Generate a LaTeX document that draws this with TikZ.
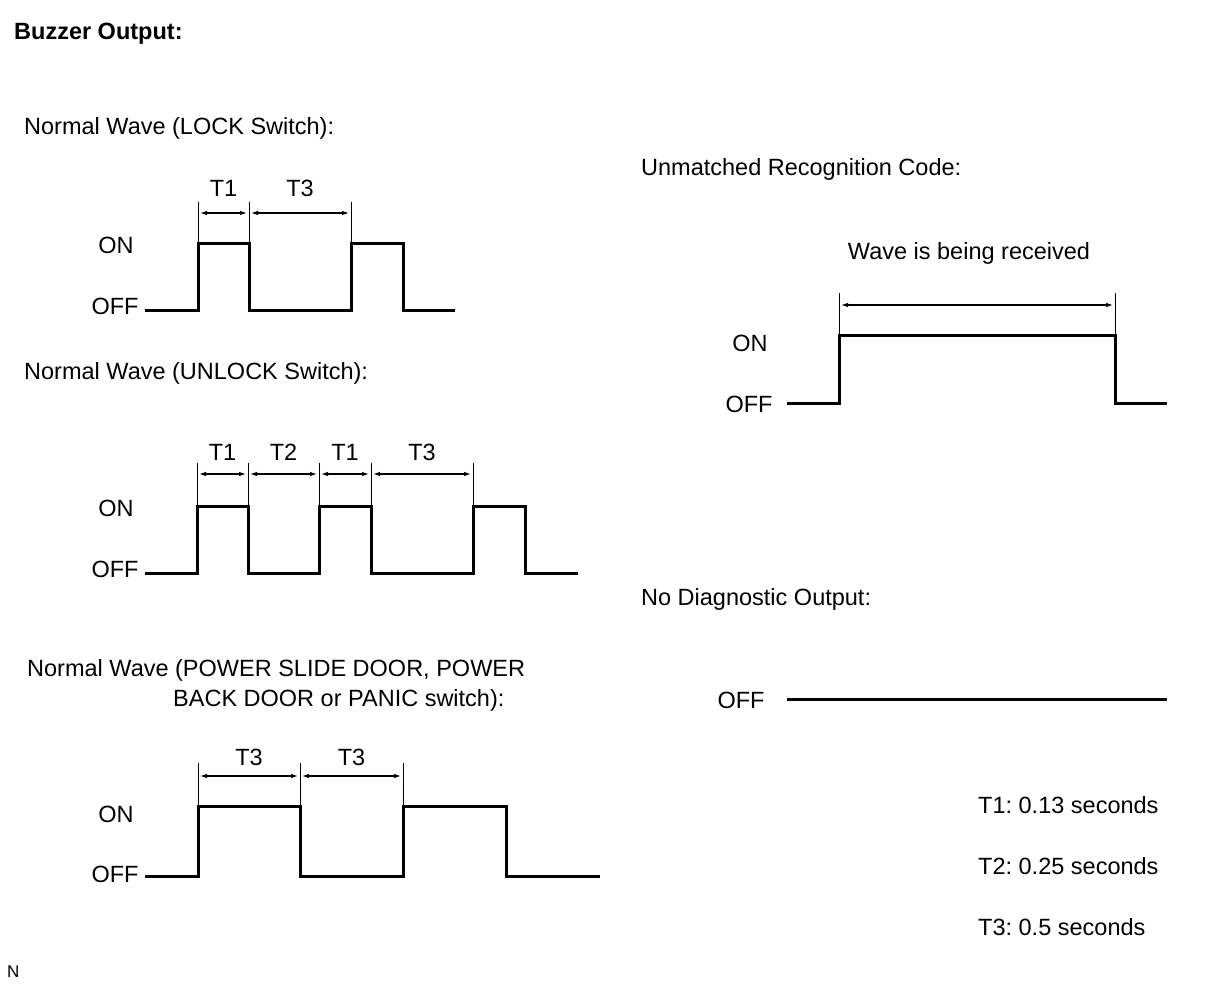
\documentclass[tikz,border=0pt]{standalone}
\usepackage{fontspec}
\setmainfont{Liberation Sans}
\usetikzlibrary{arrows.meta}
\frenchspacing
\begin{document}
\begin{tikzpicture}[x=1pt,y=-1pt,
  wave/.style={line width=3pt, line join=miter, line cap=butt},
  tickline/.style={line width=0.9pt},
  dimline/.style={line width=1.1pt, {Latex[length=7pt,width=4.5pt]}-{Latex[length=7pt,width=4.5pt]}, shorten <=2pt, shorten >=2pt},
  lbl/.style={anchor=base, inner sep=0pt, font=\fontsize{23.5}{26}\selectfont},
  ttl/.style={anchor=base west, inner sep=0pt, font=\fontsize{23.5}{26}\selectfont}]
\useasboundingbox (0,0) rectangle (1208,984);

% titles
\node[ttl, font=\fontsize{23.5}{26}\selectfont\bfseries] (title) at (14,40) {Buzzer Output:};
\node[ttl] (t1) at (24,135) {Normal Wave (LOCK Switch):};
\node[ttl] (t2) at (24,380) {Normal Wave (UNLOCK Switch):};
\node[ttl] (t3a) at (27,676) {Normal Wave (POWER SLIDE DOOR, POWER};
\node[ttl] (t3b) at (173,706) {BACK DOOR or PANIC switch):};
\node[ttl] (t4) at (641,176) {Unmatched Recognition Code:};
\node[ttl] (t5) at (641,605) {No Diagnostic Output:};
\node[ttl] (leg1) at (978,813) {T1: 0.13 seconds};
\node[ttl] (leg2) at (978,874) {T2: 0.25 seconds};
\node[ttl] (leg3) at (978,935) {T3: 0.5 seconds};
\node[ttl, font=\fontsize{17}{20}\selectfont] (nn) at (7,977) {N};

% wave 1 (LOCK)
\node[lbl] (on1) at (116,254) {ON};
\node[lbl] (off1) at (115,315) {OFF};
\draw[wave] (145,311) -- (198,311) -- (198,244) -- (249,244) -- (249,311) -- (351,311) -- (351,244) -- (403,244) -- (403,311) -- (455,311);
\foreach \x in {198,249,351} \draw[tickline] (\x,202) -- (\x,244);
\draw[dimline] (198,213) -- (249,213);
\draw[dimline] (249,213) -- (351,213);
\node[lbl] (l1a) at (223.5,197) {T1};
\node[lbl] (l1b) at (300,197) {T3};

% wave 2 (UNLOCK)
\node[lbl] (on2) at (116,516) {ON};
\node[lbl] (off2) at (115,577) {OFF};
\draw[wave] (145,573) -- (197,573) -- (197,506) -- (248,506) -- (248,573) -- (319,573) -- (319,506) -- (371,506) -- (371,573) -- (473,573) -- (473,506) -- (525,506) -- (525,573) -- (578,573);
\foreach \x in {197,248,319,371,473} \draw[tickline] (\x,463) -- (\x,506);
\draw[dimline] (197,474) -- (248,474);
\draw[dimline] (248,474) -- (319,474);
\draw[dimline] (319,474) -- (371,474);
\draw[dimline] (371,474) -- (473,474);
\node[lbl] (l2a) at (222.5,460) {T1};
\node[lbl] (l2b) at (283.5,460) {T2};
\node[lbl] (l2c) at (345,460) {T1};
\node[lbl] (l2d) at (422,460) {T3};

% wave 3 (POWER ...)
\node[lbl] (on3) at (116,822) {ON};
\node[lbl] (off3) at (115,882) {OFF};
\draw[wave] (145,876) -- (198,876) -- (198,806) -- (300,806) -- (300,876) -- (403,876) -- (403,806) -- (506,806) -- (506,876) -- (600,876);
\foreach \x in {198,300,403} \draw[tickline] (\x,763) -- (\x,806);
\draw[dimline] (198,776) -- (300,776);
\draw[dimline] (300,776) -- (403,776);
\node[lbl] (l3a) at (249,765) {T3};
\node[lbl] (l3b) at (351.5,765) {T3};

% unmatched recognition code
\node[lbl] (wr) at (969,260) {Wave is being received};
\node[lbl] (on4) at (750,352) {ON};
\node[lbl] (off4) at (749,412) {OFF};
\draw[wave] (787,403) -- (839,403) -- (839,336) -- (1115,336) -- (1115,403) -- (1167,403);
\foreach \x in {839,1115} \draw[tickline] (\x,293) -- (\x,336);
\draw[dimline] (839,305) -- (1115,305);

% no diagnostic output
\node[lbl] (off5) at (741,708) {OFF};
\draw[wave] (787,699) -- (1167,699);
\end{tikzpicture}
\end{document}
